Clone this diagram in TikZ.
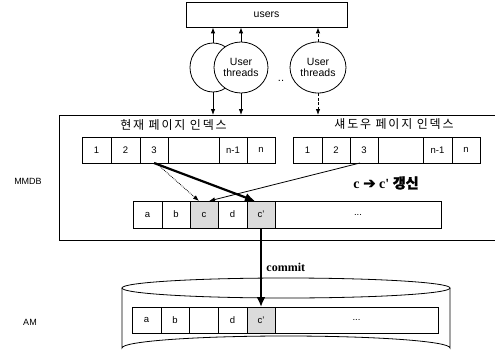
\documentclass[tikz,border=0pt]{standalone}
\usepackage{fontspec}
\setmainfont{Liberation Sans}
\newfontfamily\kr{Noto Sans CJK KR}
\newfontfamily\krheavy[FakeBold=1.6]{Noto Sans CJK KR}
\newfontfamily\serifb{Liberation Serif}
\newfontfamily\dingfont[FakeBold=1.2]{DejaVu Sans}
\usetikzlibrary{arrows.meta,shapes.geometric}

\tikzset{
  thin line/.style={line width=0.8pt},
  cell/.style={draw, thin line, inner sep=0pt, outer sep=0pt,
    font=\fontsize{9.5}{10}\selectfont},
  idxcell/.style={cell, minimum height=26pt},
  datacell/.style={cell, minimum height=27pt},
  shaded/.style={fill=black!14},
  thread/.style={draw, thin line, ellipse, fill=white, inner sep=0pt,
    align=center, font=\fontsize{10.5}{11.5}\selectfont},
  smallarrow/.style={thin line, -{Latex[length=6pt,width=4.5pt]}},
  bigarrow/.style={line width=2.2pt, -{Latex[length=10pt,width=9pt]}},
  header/.style={font=\kr\fontsize{12}{12}\selectfont\addfontfeatures{LetterSpace=15}},
  sidelabel/.style={font=\fontsize{9}{9}\selectfont},
}

\begin{document}
\begin{tikzpicture}[x=1pt,y=-1pt]
\useasboundingbox (0,0) rectangle (495,361);

% users box and the thread ellipses
\node[draw, thin line, minimum width=161pt, minimum height=25pt, inner sep=0pt,
  font=\fontsize{10.5}{11}\selectfont] (users) at (266.5,14.5) {users};

\node[thread, minimum width=46pt, minimum height=49pt] (e1) at (213,67.5) {};
\node[thread, minimum width=54pt, minimum height=51pt] (e2) at (241,67.5) {User\\threads};
\node[thread, minimum width=56pt, minimum height=51pt] (e3) at (318,67.5) {User\\threads};
\node[font=\fontsize{11}{11}\selectfont] (dots) at (281,81) {..};

% MMDB region (open to the right)
\coordinate (mtl) at (59,115);
\coordinate (mbl) at (59,240);
\draw[thin line] (495,115) -- (mtl) -- (mbl) -- (495,240);
\node[sidelabel] (mmdb) at (28,181) {MMDB};

% thread arrows
\draw[smallarrow] (e1.north) -- (e1.north |- users.south);
\draw[smallarrow] (e2.north) -- (e2.north |- users.south);
\draw[smallarrow, dashed, dash pattern=on 3pt off 1.5pt] (e3.north) -- (e3.north |- users.south);
\draw[smallarrow] (e1.south) -- (e1.south |- mtl);
\draw[smallarrow] (e2.south) -- (e2.south |- mtl);
\draw[smallarrow, dashed, dash pattern=on 3pt off 1.5pt] (e3.south) -- (e3.south |- mtl);

% page index headers
\node[header] (curhdr) at (173.5,125) {현재 페이지 인덱스};
\node[header] (shdhdr) at (394,124) {섀도우 페이지 인덱스};

% current page index
\node[idxcell, minimum width=29pt] (L1) at (96.5,150) {1};
\node[idxcell, minimum width=29pt] (L2) at (125.5,150) {2};
\node[idxcell, minimum width=28pt] (L3) at (154,150) {3};
\node[idxcell, minimum width=51pt] (L4) at (193.5,150) {};
\node[idxcell, minimum width=28pt] (L5) at (233,150) {n-1};
\node[idxcell, minimum width=28pt] (L6) at (261,150) {n};

% shadow page index
\node[idxcell, minimum width=29pt] (R1) at (307.5,150) {1};
\node[idxcell, minimum width=28pt] (R2) at (336,150) {2};
\node[idxcell, minimum width=28pt] (R3) at (364,150) {3};
\node[idxcell, minimum width=45pt] (R4) at (400.5,150) {};
\node[idxcell, minimum width=29pt] (R5) at (437.5,150) {n-1};
\node[idxcell, minimum width=28pt] (R6) at (466,150) {n};

% pages in main memory
\node[datacell, minimum width=29pt] (Ma) at (147.5,214.5) {a};
\node[datacell, minimum width=28pt] (Mb) at (176,214.5) {b};
\node[datacell, shaded, minimum width=28pt] (Mc) at (204,214.5) {c};
\node[datacell, minimum width=29pt] (Md) at (232.5,214.5) {d};
\node[datacell, shaded, minimum width=28pt] (Mcp) at (261,214.5) {c'};
\node[datacell, minimum width=166pt] (Mr) at (358,214.5) {...};

\node[font=\fontsize{14}{14}\selectfont] (upd) at (386,183)
  {\serifb\bfseries c {\dingfont\fontsize{15}{15}\selectfont ➔} c' {\krheavy 갱신}};

% index pointers
\draw[smallarrow, densely dotted] ([xshift=2pt]L3.south) -- ([xshift=-5pt]Mc.north);
\draw[smallarrow] ([xshift=-4pt]R3.south) -- ([xshift=5pt]Mc.north);
\draw[bigarrow] (L3.south) -- ([xshift=-6pt]Mcp.north);

% archive memory (cylinder)
\draw[thin line] (122,288) -- (122,348) arc[start angle=180, end angle=360, x radius=164, y radius=12] -- (450,288);
\draw[thin line] (286,288) ellipse[x radius=164, y radius=10];
\node[sidelabel] (am) at (30,322) {AM};

\node[datacell, minimum height=26pt, minimum width=29pt] (Aa) at (146.5,320) {a};
\node[datacell, minimum height=26pt, minimum width=28pt] (Ab) at (175,320) {b};
\node[datacell, minimum height=26pt, minimum width=29pt] (Ac) at (203.5,320) {};
\node[datacell, minimum height=26pt, minimum width=29pt] (Ad) at (232.5,320) {d};
\node[datacell, minimum height=26pt, shaded, minimum width=28pt] (Acp) at (261,320) {c'};
\node[datacell, minimum height=26pt, minimum width=163pt] (Ar) at (356.5,320) {...};

% commit
\draw[bigarrow] (Mcp.south) -- node[right=1pt, font=\serifb\bfseries\fontsize{12}{12}\selectfont] (commit) {commit} (Acp.north);
\end{tikzpicture}
\end{document}
